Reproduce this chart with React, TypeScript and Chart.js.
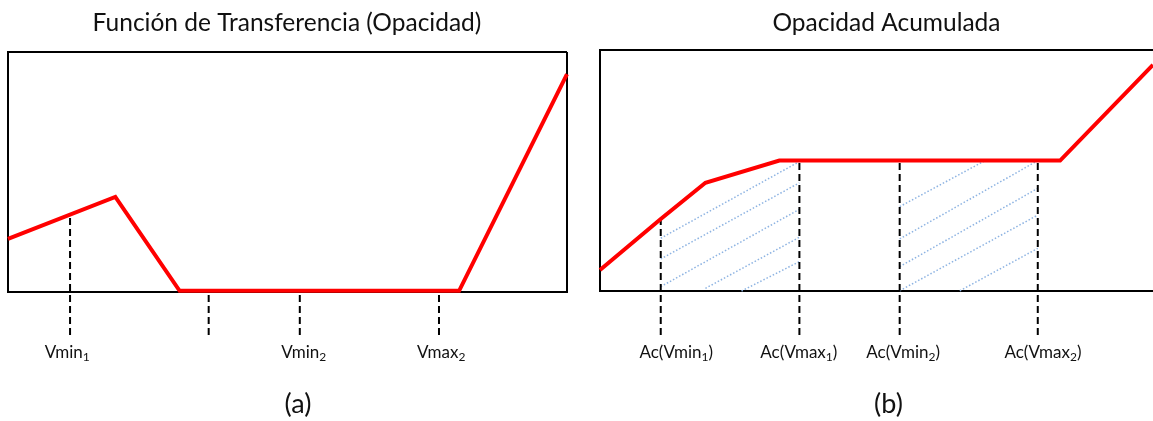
import React, { useEffect, useRef } from "react";
import { Chart, registerables } from "chart.js";

Chart.register(...registerables);

// ---------- Panel (a): Función de Transferencia ----------
const titleA = "Función de Transferencia (Opacidad)";
const captionA = "(a)";
const curveAX = [0, 19.2, 30.7, 80.7, 100];
const curveAY = [22.1, 39.6, 0.5, 0.5, 90.8];
const markersAX = [11.1, 35.9, 52.2, 77.1];
const markersATop = [32.2, 0.5, 0.5, 0.5];
const markerBottomA = -17.9;
const tickLabelsA = ["Vmin₁", "Vmin₂", "Vmax₂"];
const tickPosA = [10.6, 52.9, 77.5];

// ---------- Panel (b): Opacidad Acumulada ----------
const titleB = "Opacidad Acumulada";
const captionB = "(b)";
const curveBX = [0, 10.6, 18.4, 31.3, 80.3, 96.5];
const curveBY = [8.7, 29.9, 44.9, 54.1, 54.1, 93.8];
const markersBX = [10.6, 34.8, 52.3, 76.4];
const markersBTop = [29.9, 54.1, 54.1, 54.1];
const markerBottomB = -18.3;
const tickLabelsB = ["Ac(Vmin₁)", "Ac(Vmax₁)", "Ac(Vmin₂)", "Ac(Vmax₂)"];
const tickPosB = [13.3, 34.7, 52.9, 77.3];
// hatch segments (start x, start y, end x, end y)
const hatchX0 = [10.6, 10.6, 10.6, 18.4, 24.7, 52.3, 52.3, 52.3, 52.3, 62.8];
const hatchY0 = [21.9, 13.3, 1.8, 1.1, 0.0, 35.0, 21.6, 10.1, 0.1, 0.1];
const hatchX1 = [34.8, 34.8, 34.8, 34.8, 34.8, 67.2, 76.4, 76.4, 76.4, 76.4];
const hatchY1 = [53.7, 44.9, 33.9, 22.3, 12.2, 54.1, 54.1, 42.6, 31.5, 17.7];

const FONT = "Lato, 'Open Sans', sans-serif";
const SUBS = "₀₁₂₃₄₅₆₇₈₉";

function drawRich(ctx: CanvasRenderingContext2D, text: string, cx: number, y: number, size: number) {
  const parts: { t: string; sub: boolean }[] = [];
  for (const ch of text) {
    const i = SUBS.indexOf(ch);
    const sub = i >= 0;
    const c = sub ? String(i) : ch;
    const last = parts[parts.length - 1];
    if (last && last.sub === sub) last.t += c;
    else parts.push({ t: c, sub });
  }
  const subSize = Math.round(size * 0.68);
  let total = 0;
  for (const p of parts) {
    ctx.font = `${p.sub ? subSize : size}px ${FONT}`;
    total += ctx.measureText(p.t).width;
  }
  let x = cx - total / 2;
  ctx.textAlign = "left";
  ctx.textBaseline = "alphabetic";
  for (const p of parts) {
    ctx.font = `${p.sub ? subSize : size}px ${FONT}`;
    ctx.fillText(p.t, x, p.sub ? y + size * 0.2 : y);
    x += ctx.measureText(p.t).width;
  }
}

const panelPlugin = {
  id: "panelDecor",
  beforeDatasetsDraw(chart: any, _args: any, opts: any) {
    const { ctx, chartArea: a } = chart;
    ctx.save();
    ctx.strokeStyle = "#000";
    ctx.lineWidth = 2;
    ctx.beginPath();
    ctx.moveTo(a.right, a.top);
    ctx.lineTo(a.left, a.top);
    ctx.lineTo(a.left, a.bottom);
    ctx.lineTo(a.right, a.bottom);
    if (opts.rightBorder) ctx.lineTo(a.right, a.top);
    ctx.stroke();
    ctx.restore();
  },
  afterDraw(chart: any, _args: any, opts: any) {
    const { ctx } = chart;
    const xs = chart.scales.x;
    ctx.save();
    ctx.fillStyle = "#111";
    drawRich(ctx, opts.title, opts.titleX, 31, 24.5);
    drawRich(ctx, opts.caption, opts.captionX, 413, 27);
    opts.tickLabels.forEach((lab: string, i: number) => {
      drawRich(ctx, lab, xs.getPixelForValue(opts.tickPos[i]), 358, 17);
    });
    ctx.restore();
  },
};

function buildDatasets(
  cx: number[], cy: number[], mx: number[], mTop: number[], mBottom: number,
  hx0: number[], hy0: number[], hx1: number[], hy1: number[]
) {
  const ds: any[] = [];
  ds.push({
    data: cx.map((x, i) => ({ x, y: cy[i] })),
    borderColor: "#FF0000",
    borderWidth: 4,
    borderJoinStyle: "miter",
    pointRadius: 0,
    tension: 0,
    clip: 4,
  });
  mx.forEach((x, i) => {
    ds.push({
      data: [{ x, y: mBottom }, { x, y: mTop[i] }],
      borderColor: "#000",
      borderWidth: 2,
      borderDash: [7, 4],
      pointRadius: 0,
      clip: false,
    });
  });
  hx0.forEach((x, i) => {
    ds.push({
      data: [{ x, y: hy0[i] }, { x: hx1[i], y: hy1[i] }],
      borderColor: "#8DB3E2",
      borderWidth: 1.5,
      borderDash: [1.5, 2],
      pointRadius: 0,
      clip: false,
    });
  });
  return ds;
}

function Panel(props: {
  left: number; width: number; padding: any; datasets: any[]; decor: any;
}) {
  const ref = useRef<HTMLCanvasElement>(null);
  useEffect(() => {
    const chart = new Chart(ref.current as HTMLCanvasElement, {
      type: "line",
      data: { datasets: props.datasets },
      options: {
        responsive: false,
        animation: false,
        devicePixelRatio: 1,
        layout: { padding: props.padding },
        scales: {
          x: { type: "linear", min: 0, max: 100, display: false },
          y: { type: "linear", min: 0, max: 100, display: false },
        },
        plugins: {
          legend: { display: false },
          tooltip: { enabled: false },
          title: { display: false },
          panelDecor: props.decor,
        } as any,
      },
      plugins: [panelPlugin],
    });
    return () => chart.destroy();
  }, []);
  return (
    <canvas
      ref={ref}
      width={props.width}
      height={421}
      style={{ position: "absolute", left: props.left, top: 0, width: props.width, height: 421, display: "block" }}
    />
  );
}

export default function App() {
  useEffect(() => {
    document.body.style.margin = "0";
  }, []);
  const dsA = buildDatasets(curveAX, curveAY, markersAX, markersATop, markerBottomA, [], [], [], []);
  const dsB = buildDatasets(curveBX, curveBY, markersBX, markersBTop, markerBottomB, hatchX0, hatchY0, hatchX1, hatchY1);
  return (
    <div style={{ position: "relative", width: 1153, height: 421, overflow: "hidden", background: "#fff" }}>
      <Panel
        left={0}
        width={590}
        padding={{ left: 8, right: 23, top: 52, bottom: 129 }}
        datasets={dsA}
        decor={{ title: titleA, titleX: 287, caption: captionA, captionX: 298, tickLabels: tickLabelsA, tickPos: tickPosA, rightBorder: true }}
      />
      <Panel
        left={590}
        width={593}
        padding={{ left: 10, right: 10, top: 50, bottom: 130 }}
        datasets={dsB}
        decor={{ title: titleB, titleX: 296.5, caption: captionB, captionX: 298.5, tickLabels: tickLabelsB, tickPos: tickPosB, rightBorder: false }}
      />
    </div>
  );
}
